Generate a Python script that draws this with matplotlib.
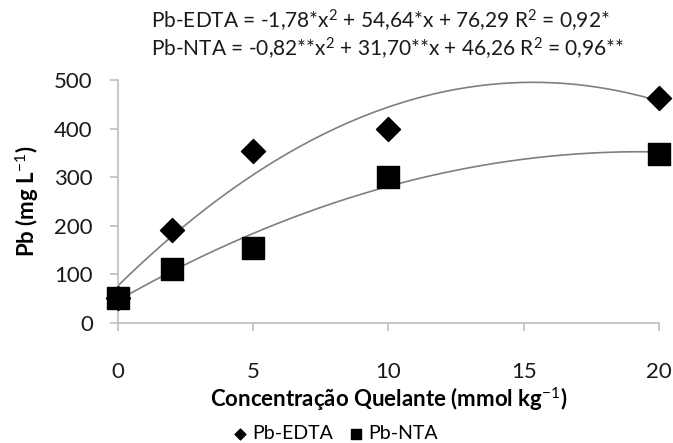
import matplotlib.pyplot as plt
import numpy as np

plt.rcParams['font.family'] = ['Lato', 'DejaVu Sans']
plt.rcParams['mathtext.fontset'] = 'custom'
plt.rcParams['mathtext.rm'] = 'Lato'
plt.rcParams['mathtext.bf'] = 'Lato:bold'
plt.rcParams['mathtext.default'] = 'rm'

# dados
conc = [0, 2, 5, 10, 20]
pb_edta = [52, 191, 355, 400, 463]
pb_nta = [52, 112, 155, 300, 348]

# coeficientes das regressoes (a*x^2 + b*x + c)
coef_edta = [-1.78, 54.64, 76.29]
coef_nta = [-0.82, 31.70, 46.26]

fig = plt.figure(figsize=(6.73, 4.43), dpi=100)
ax = fig.add_axes([0.175, 0.271, 0.804, 0.548])

xs = np.linspace(0, 20, 200)
ax.plot(xs, np.polyval(coef_edta, xs), color='#7f7f7f', lw=1.2, zorder=2)
ax.plot(xs, np.polyval(coef_nta, xs), color='#7f7f7f', lw=1.2, zorder=2)

ax.scatter(conc, pb_edta, marker='D', s=150, color='black', zorder=3,
           label='Pb-EDTA', clip_on=False)
ax.scatter(conc, pb_nta, marker='s', s=230, color='black', zorder=3,
           label='Pb-NTA', clip_on=False)

ax.set_xlim(0, 20)
ax.set_ylim(0, 500)
ax.set_xticks([0, 5, 10, 15, 20])
ax.set_yticks([0, 100, 200, 300, 400, 500])

for s in ['top', 'right']:
    ax.spines[s].set_visible(False)
for s in ['left', 'bottom']:
    ax.spines[s].set_color('#bfbfbf')
    ax.spines[s].set_linewidth(1.2)
ax.tick_params(colors='#bfbfbf', labelcolor='#1a1a1a', labelsize=16, length=6, width=1.2)
ax.tick_params(axis='x', pad=22)
ax.tick_params(axis='y', pad=12)

ax.set_xlabel('Concentração Quelante (mmol kg$^{-1}$)', fontsize=16, fontweight='bold', labelpad=2)
ax.set_ylabel('Pb (mg L$^{-1}$)', fontsize=16, fontweight='bold', labelpad=10)

fig.text(0.224, 0.953, 'Pb-EDTA = -1,78*x$^2$ + 54,64*x + 76,29 R$^2$ = 0,92*',
         fontsize=15, va='center', color='#1a1a1a')
fig.text(0.224, 0.89, 'Pb-NTA = -0,82**x$^2$ + 31,70**x + 46,26 R$^2$ = 0,96**',
         fontsize=15, va='center', color='#1a1a1a')

fig.legend(loc='center', bbox_to_anchor=(0.495, 0.022), ncol=2, frameon=False,
           fontsize=14, handletextpad=0.0, columnspacing=0.6, markerscale=0.45,
           handlelength=1.2)

fig.savefig('out.png', dpi=100)
